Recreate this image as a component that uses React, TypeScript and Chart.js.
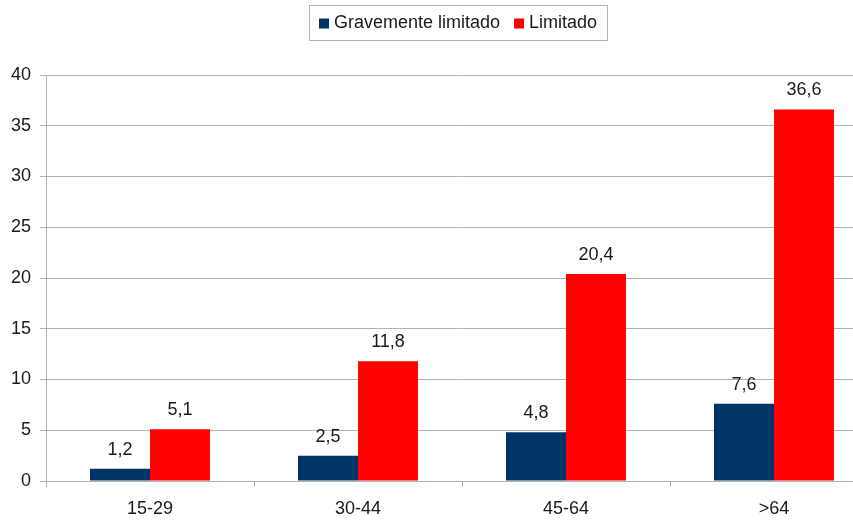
import React, { useEffect, useRef } from "react";
import { Chart, registerables } from "chart.js";

Chart.register(...registerables);

const categories = ["15-29", "30-44", "45-64", ">64"];
const gravementeValues = [1.2, 2.5, 4.8, 7.6];
const limitadoValues = [5.1, 11.8, 20.4, 36.6];
const seriesNames = ["Gravemente limitado", "Limitado"];
const seriesColors = ["#003366", "#ff0000"];

const FONT = "'Liberation Sans', Arial, sans-serif";
const FSIZE = 18;

const fmt = (v: number) => v.toFixed(1).replace(".", ",");

const labelPlugin = {
  id: "valueLabels",
  afterDatasetsDraw(chart: any) {
    const ctx = chart.ctx;
    ctx.save();
    ctx.font = `${FSIZE}px ${FONT}`;
    ctx.fillStyle = "#1a1a1a";
    ctx.textAlign = "center";
    ctx.textBaseline = "bottom";
    chart.data.datasets.forEach((ds: any, di: number) => {
      const meta = chart.getDatasetMeta(di);
      meta.data.forEach((bar: any, i: number) => {
        ctx.fillText(fmt(ds.data[i]), bar.x, bar.y - 10);
      });
    });
    ctx.restore();
  },
};

const legendPlugin = {
  id: "boxedLegend",
  afterDraw(chart: any) {
    const ctx = chart.ctx;
    const area = chart.chartArea;
    ctx.save();
    ctx.font = `${FSIZE}px ${FONT}`;
    const box = 10;
    const gapBoxText = 5;
    const gapItems = 14;
    const widths = seriesNames.map((n) => ctx.measureText(n).width);
    const total =
      widths.reduce((a, b) => a + b, 0) +
      seriesNames.length * (box + gapBoxText) +
      gapItems * (seriesNames.length - 1);
    const padX = 10;
    const cx = (area.left + area.right) / 2 - 4;
    const left = Math.round(cx - total / 2 - padX);
    const top = 5;
    const h = 35;
    ctx.strokeStyle = "#b3b3b3";
    ctx.lineWidth = 1;
    ctx.strokeRect(left + 0.5, top + 0.5, Math.round(total + 2 * padX), h);
    let x = left + padX;
    const cy = top + h / 2 + 1;
    ctx.textBaseline = "middle";
    ctx.textAlign = "left";
    seriesNames.forEach((n, i) => {
      ctx.fillStyle = seriesColors[i];
      ctx.fillRect(x, cy - 5, box, box);
      x += box + gapBoxText;
      ctx.fillStyle = "#1a1a1a";
      ctx.fillText(n, x, cy);
      x += widths[i] + gapItems;
    });
    ctx.restore();
  },
};

const CANVAS_W = 880;

export default function App() {
  const ref = useRef<HTMLCanvasElement | null>(null);
  useEffect(() => {
    if (!ref.current) return;
    const chart = new Chart(ref.current, {
      type: "bar",
      data: {
        labels: categories,
        datasets: [
          {
            label: seriesNames[0],
            data: gravementeValues,
            backgroundColor: seriesColors[0],
            categoryPercentage: 0.577,
            barPercentage: 1,
          },
          {
            label: seriesNames[1],
            data: limitadoValues,
            backgroundColor: seriesColors[1],
            categoryPercentage: 0.577,
            barPercentage: 1,
          },
        ],
      },
      options: {
        animation: false,
        responsive: false,
        maintainAspectRatio: false,
        layout: { padding: { top: 75, right: 2, left: 0, bottom: 0 } },
        plugins: {
          legend: { display: false },
          tooltip: { enabled: false },
        },
        scales: {
          x: {
            grid: {
              display: true,
              drawOnChartArea: false,
              drawTicks: true,
              tickLength: 6,
              color: "#b3b3b3",
              offset: true,
            },
            border: { color: "#b3b3b3" },
            ticks: {
              color: "#1a1a1a",
              font: { family: FONT, size: FSIZE },
              padding: 11,
            },
            afterFit(scale: any) {
              scale.height = 39;
            },
          },
          y: {
            min: 0,
            max: 40,
            ticks: {
              stepSize: 5,
              color: "#1a1a1a",
              font: { family: FONT, size: FSIZE },
              padding: 9,
            },
            grid: {
              color: "#b3b3b3",
              tickLength: 6,
            },
            border: { color: "#b3b3b3" },
            afterFit(scale: any) {
              scale.width = 46;
            },
          },
        },
      },
      plugins: [labelPlugin, legendPlugin],
    });
    return () => chart.destroy();
  }, []);
  return (
    <div
      style={{
        position: "absolute",
        left: 0,
        top: 0,
        width: 853,
        height: 520,
        overflow: "hidden",
        background: "#fff",
      }}
    >
      <canvas ref={ref} width={CANVAS_W} height={520} style={{ width: CANVAS_W, height: 520, display: "block" }} />
    </div>
  );
}
